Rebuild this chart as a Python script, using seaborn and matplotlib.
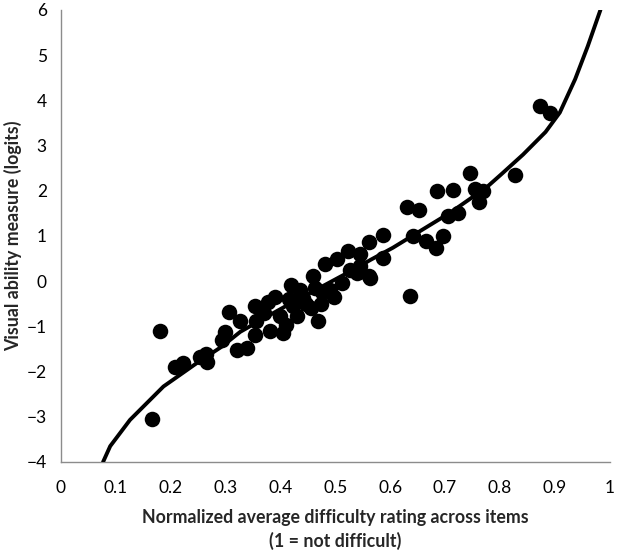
import matplotlib
matplotlib.use("Agg")
import matplotlib.pyplot as plt
import seaborn as sns
import pandas as pd

# Observed points: normalized difficulty rating (x) vs visual ability (logits, y)
rating = [0.166, 0.180, 0.208, 0.223, 0.254, 0.266, 0.265, 0.293, 0.299, 0.307,
          0.321, 0.339, 0.327, 0.353, 0.353, 0.377, 0.381, 0.405, 0.356, 0.390,
          0.399, 0.411, 0.420, 0.423, 0.430, 0.442, 0.436, 0.460, 0.463, 0.468,
          0.481, 0.503, 0.491, 0.512, 0.524, 0.545, 0.545, 0.539, 0.561, 0.561,
          0.587, 0.564, 0.587, 0.636, 0.630, 0.653, 0.642, 0.666, 0.684, 0.697,
          0.685, 0.715, 0.706, 0.724, 0.745, 0.755, 0.770, 0.762, 0.827, 0.873,
          0.892, 0.446, 0.456, 0.474, 0.497, 0.415, 0.370, 0.527, 0.476]
ability = [-3.05, -1.10, -1.90, -1.82, -1.67, -1.78, -1.62, -1.30, -1.12, -0.69,
           -1.52, -1.48, -0.89, -0.56, -1.20, -0.47, -1.10, -1.15, -0.89, -0.34,
           -0.78, -0.96, -0.08, -0.56, -0.78, -0.37, -0.19, 0.11, -0.15, -0.89,
           0.37, 0.48, -0.19, -0.04, 0.66, 0.59, 0.33, 0.18, 0.11, 0.87,
           1.03, 0.07, 0.51, -0.32, 1.64, 1.57, 0.99, 0.88, 0.74, 1.01,
           1.99, 2.01, 1.44, 1.51, 2.40, 2.03, 1.99, 1.75, 2.34, 3.88,
           3.73, -0.50, -0.60, -0.50, -0.35, -0.40, -0.70, 0.25, -0.25]

# Fitted curve
curve_x = [0.077, 0.090, 0.126, 0.187, 0.248, 0.293, 0.327, 0.385, 0.425, 0.491,
           0.537, 0.564, 0.605, 0.648, 0.710, 0.776, 0.802, 0.842, 0.883, 0.909,
           0.937, 0.960, 0.983]
curve_y = [-4.0, -3.65, -3.07, -2.33, -1.81, -1.45, -1.12, -0.72, -0.45, -0.02,
           0.28, 0.47, 0.74, 1.06, 1.52, 2.08, 2.36, 2.8, 3.3, 3.73,
           4.47, 5.2, 6.0]

x_ticks = [0, 0.1, 0.2, 0.3, 0.4, 0.5, 0.6, 0.7, 0.8, 0.9, 1]
x_ticklabels = ["0", "0.1", "0.2", "0.3", "0.4", "0.5", "0.6", "0.7", "0.8", "0.9", "1"]
y_ticks = [-4, -3, -2, -1, 0, 1, 2, 3, 4, 5, 6]

sns.set_style("white")
plt.rcParams['font.family'] = ['Lato', 'DejaVu Sans']

fig = plt.figure(figsize=(6.21, 5.53), dpi=100)
ax = fig.add_axes([0.0979, 0.1646, 0.884, 0.8174])

pts = pd.DataFrame({"rating": rating, "ability": ability})
crv = pd.DataFrame({"x": curve_x, "y": curve_y})

sns.scatterplot(data=pts, x="rating", y="ability", ax=ax, color="black",
                s=125, edgecolor="black", linewidth=0, zorder=3)
sns.lineplot(data=crv, x="x", y="y", ax=ax, color="black", linewidth=2.8,
             sort=False, estimator=None, zorder=4)

ax.set_xlim(0, 1)
ax.set_ylim(-4, 6)
ax.set_xticks(x_ticks)
ax.set_xticklabels(x_ticklabels)
ax.set_yticks(y_ticks)
ax.tick_params(axis="both", direction="out", length=5, width=1, color="#8c8c8c",
               labelsize=12.5, labelcolor="black")
ax.tick_params(axis="x", pad=8)
ax.tick_params(axis="y", pad=5)
for side in ["top", "right"]:
    ax.spines[side].set_visible(False)
for side in ["left", "bottom"]:
    ax.spines[side].set_color("#8c8c8c")
    ax.spines[side].set_linewidth(1)

ax.set_xlabel("Normalized average difficulty rating across items\n(1 = not difficult)",
              fontsize=12.8, fontweight="bold", labelpad=9, linespacing=1.45)
ax.set_ylabel("Visual ability measure (logits)", fontsize=12.8, fontweight="bold",
              labelpad=3)

fig.savefig("out.png", dpi=100)
